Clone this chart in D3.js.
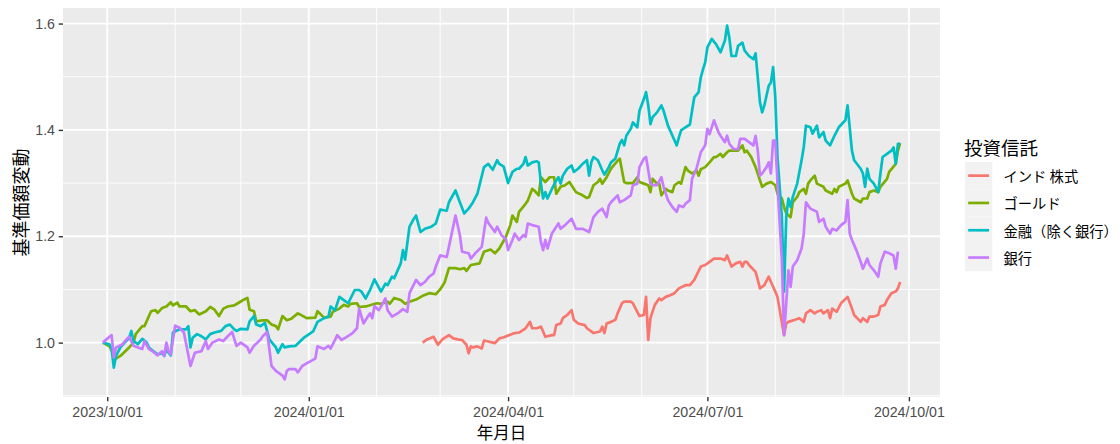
<!DOCTYPE html>
<html>
<head>
<meta charset="utf-8">
<script src="https://cdn.jsdelivr.net/npm/d3@7"></script>
<style>
  body { margin: 0; background: #fff; }
</style>
</head>
<body>
<svg id="chart"></svg>
<script>
// Chart data: normalised fund prices (start = 1.0)

const seriesNames = ["インド 株式", "ゴールド", "金融（除く銀行）", "銀行"];
const seriesColors = ["#F8766D", "#7CAE00", "#00BFC4", "#C77CFF"];

const xTickDates = ["2023-10-01", "2024-01-01", "2024-04-01", "2024-07-01", "2024-10-01"];
const yTickValues = [1.0, 1.2, 1.4, 1.6];

const indiaStock = [
  ["2024-02-22",1.000],["2024-02-24",1.006],["2024-02-27",1.011],["2024-02-29",0.996],["2024-03-02",1.006],
  ["2024-03-05",1.014],["2024-03-07",1.008],["2024-03-09",1.006],["2024-03-11",1.005],["2024-03-13",0.996],
  ["2024-03-14",0.980],["2024-03-15",0.993],["2024-03-16",0.991],["2024-03-18",0.993],["2024-03-20",0.989],
  ["2024-03-21",1.004],["2024-03-23",1.002],["2024-03-26",0.999],["2024-03-28",1.008],["2024-03-30",1.010],
  ["2024-04-02",1.015],["2024-04-04",1.018],["2024-04-06",1.019],["2024-04-09",1.027],["2024-04-10",1.033],
  ["2024-04-11",1.039],["2024-04-12",1.027],["2024-04-14",1.027],["2024-04-16",1.030],["2024-04-17",1.021],
  ["2024-04-18",1.011],["2024-04-21",1.014],["2024-04-22",1.014],["2024-04-23",1.033],["2024-04-25",1.036],
  ["2024-04-26",1.046],["2024-04-28",1.052],["2024-04-30",1.061],["2024-05-01",1.043],["2024-05-03",1.036],
  ["2024-05-06",1.033],["2024-05-07",1.027],["2024-05-09",1.021],["2024-05-10",1.018],["2024-05-13",1.021],
  ["2024-05-14",1.030],["2024-05-15",1.018],["2024-05-16",1.036],["2024-05-18",1.039],["2024-05-20",1.043],
  ["2024-05-21",1.055],["2024-05-23",1.074],["2024-05-24",1.077],["2024-05-27",1.077],["2024-05-28",1.074],
  ["2024-05-30",1.058],["2024-05-31",1.050],["2024-06-02",1.052],["2024-06-03",1.086],["2024-06-04",1.005],
  ["2024-06-05",1.046],["2024-06-07",1.071],["2024-06-09",1.083],["2024-06-10",1.080],["2024-06-12",1.086],
  ["2024-06-14",1.089],["2024-06-16",1.093],["2024-06-18",1.102],["2024-06-21",1.108],["2024-06-23",1.108],
  ["2024-06-25",1.118],["2024-06-28",1.143],["2024-06-30",1.146],["2024-07-02",1.152],["2024-07-04",1.158],
  ["2024-07-07",1.158],["2024-07-09",1.155],["2024-07-10",1.164],["2024-07-12",1.143],["2024-07-14",1.149],
  ["2024-07-16",1.152],["2024-07-17",1.143],["2024-07-18",1.152],["2024-07-19",1.152],["2024-07-20",1.146],
  ["2024-07-23",1.133],["2024-07-24",1.118],["2024-07-25",1.102],["2024-07-27",1.108],["2024-07-29",1.124],
  ["2024-07-31",1.105],["2024-08-01",1.096],["2024-08-02",1.086],["2024-08-05",1.014],["2024-08-06",1.036],
  ["2024-08-07",1.039],["2024-08-10",1.043],["2024-08-12",1.046],["2024-08-14",1.039],["2024-08-15",1.055],
  ["2024-08-17",1.061],["2024-08-19",1.055],["2024-08-20",1.058],["2024-08-22",1.061],["2024-08-23",1.055],
  ["2024-08-25",1.061],["2024-08-26",1.046],["2024-08-27",1.064],["2024-08-29",1.058],["2024-08-31",1.074],
  ["2024-09-03",1.086],["2024-09-05",1.064],["2024-09-06",1.052],["2024-09-09",1.039],["2024-09-10",1.046],
  ["2024-09-12",1.039],["2024-09-13",1.049],["2024-09-15",1.049],["2024-09-17",1.052],["2024-09-18",1.068],
  ["2024-09-20",1.071],["2024-09-21",1.080],["2024-09-23",1.093],["2024-09-25",1.096],["2024-09-26",1.102],
  ["2024-09-27",1.114]
];

const gold = [
  ["2023-09-29",1.000],["2023-10-02",0.993],["2023-10-05",0.970],["2023-10-07",0.975],["2023-10-11",0.991],
  ["2023-10-13",1.000],["2023-10-14",1.016],["2023-10-17",1.031],["2023-10-18",1.031],["2023-10-21",1.059],
  ["2023-10-23",1.061],["2023-10-24",1.056],["2023-10-26",1.065],["2023-10-28",1.068],["2023-10-30",1.076],
  ["2023-10-31",1.070],["2023-11-02",1.075],["2023-11-03",1.068],["2023-11-06",1.068],["2023-11-08",1.059],
  ["2023-11-10",1.061],["2023-11-12",1.053],["2023-11-15",1.059],["2023-11-17",1.067],["2023-11-19",1.062],
  ["2023-11-21",1.050],["2023-11-23",1.064],["2023-11-25",1.068],["2023-11-28",1.070],["2023-11-30",1.075],
  ["2023-12-02",1.080],["2023-12-04",1.084],["2023-12-05",1.062],["2023-12-07",1.059],["2023-12-08",1.040],
  ["2023-12-11",1.042],["2023-12-13",1.042],["2023-12-15",1.034],["2023-12-17",1.031],["2023-12-18",1.025],
  ["2023-12-20",1.050],["2023-12-22",1.042],["2023-12-24",1.045],["2023-12-27",1.055],["2023-12-28",1.053],
  ["2023-12-31",1.046],["2024-01-04",1.047],["2024-01-05",1.059],["2024-01-08",1.047],["2024-01-11",1.049],
  ["2024-01-12",1.058],["2024-01-15",1.064],["2024-01-17",1.071],["2024-01-19",1.068],["2024-01-20",1.073],
  ["2024-01-23",1.074],["2024-01-24",1.067],["2024-01-27",1.068],["2024-02-01",1.074],["2024-02-03",1.073],
  ["2024-02-06",1.077],["2024-02-07",1.073],["2024-02-09",1.084],["2024-02-12",1.080],["2024-02-14",1.073],
  ["2024-02-16",1.077],["2024-02-19",1.081],["2024-02-22",1.088],["2024-02-25",1.093],["2024-02-28",1.091],
  ["2024-03-01",1.100],["2024-03-03",1.113],["2024-03-05",1.140],["2024-03-08",1.140],["2024-03-10",1.138],
  ["2024-03-12",1.140],["2024-03-13",1.135],["2024-03-15",1.146],["2024-03-19",1.149],["2024-03-21",1.171],
  ["2024-03-24",1.175],["2024-03-26",1.168],["2024-03-28",1.177],["2024-03-31",1.199],["2024-04-02",1.221],
  ["2024-04-03",1.239],["2024-04-05",1.227],["2024-04-06",1.246],["2024-04-09",1.261],["2024-04-10",1.267],
  ["2024-04-12",1.289],["2024-04-13",1.286],["2024-04-15",1.277],["2024-04-16",1.311],["2024-04-18",1.302],
  ["2024-04-20",1.311],["2024-04-22",1.311],["2024-04-23",1.280],["2024-04-25",1.293],["2024-04-27",1.296],
  ["2024-04-29",1.302],["2024-05-02",1.283],["2024-05-05",1.277],["2024-05-07",1.272],["2024-05-08",1.274],
  ["2024-05-10",1.296],["2024-05-12",1.302],["2024-05-13",1.308],["2024-05-14",1.299],["2024-05-16",1.311],
  ["2024-05-18",1.327],["2024-05-21",1.342],["2024-05-22",1.346],["2024-05-24",1.302],["2024-05-25",1.300],
  ["2024-05-28",1.300],["2024-05-30",1.311],["2024-05-31",1.302],["2024-06-02",1.299],["2024-06-04",1.296],
  ["2024-06-05",1.283],["2024-06-06",1.308],["2024-06-08",1.299],["2024-06-09",1.299],["2024-06-10",1.277],
  ["2024-06-12",1.289],["2024-06-13",1.286],["2024-06-15",1.283],["2024-06-16",1.296],["2024-06-18",1.302],
  ["2024-06-19",1.299],["2024-06-21",1.330],["2024-06-22",1.324],["2024-06-24",1.318],["2024-06-26",1.324],
  ["2024-06-27",1.314],["2024-06-28",1.326],["2024-06-30",1.330],["2024-07-02",1.339],["2024-07-04",1.349],
  ["2024-07-05",1.349],["2024-07-07",1.355],["2024-07-08",1.349],["2024-07-10",1.358],["2024-07-11",1.361],
  ["2024-07-14",1.361],["2024-07-15",1.361],["2024-07-17",1.371],["2024-07-18",1.358],["2024-07-19",1.361],
  ["2024-07-21",1.349],["2024-07-23",1.330],["2024-07-25",1.305],["2024-07-26",1.293],["2024-07-28",1.299],
  ["2024-07-30",1.302],["2024-08-01",1.296],["2024-08-02",1.280],["2024-08-04",1.271],["2024-08-05",1.255],
  ["2024-08-06",1.243],["2024-08-08",1.236],["2024-08-09",1.264],["2024-08-11",1.274],["2024-08-12",1.283],
  ["2024-08-14",1.289],["2024-08-15",1.280],["2024-08-16",1.299],["2024-08-17",1.305],["2024-08-19",1.314],
  ["2024-08-20",1.299],["2024-08-23",1.293],["2024-08-24",1.286],["2024-08-27",1.280],["2024-08-28",1.289],
  ["2024-08-29",1.283],["2024-08-30",1.293],["2024-09-02",1.299],["2024-09-03",1.305],["2024-09-05",1.280],
  ["2024-09-06",1.271],["2024-09-09",1.264],["2024-09-10",1.271],["2024-09-12",1.271],["2024-09-13",1.283],
  ["2024-09-15",1.286],["2024-09-17",1.283],["2024-09-18",1.293],["2024-09-21",1.308],["2024-09-22",1.321],
  ["2024-09-25",1.336],["2024-09-26",1.361],["2024-09-27",1.375]
];

const finance = [
  ["2023-09-29",1.000],["2023-10-02",0.997],["2023-10-03",0.988],["2023-10-04",0.953],["2023-10-05",0.975],
  ["2023-10-07",0.991],["2023-10-09",1.000],["2023-10-11",1.009],["2023-10-12",1.022],["2023-10-13",1.003],
  ["2023-10-15",0.997],["2023-10-17",1.007],["2023-10-19",1.000],["2023-10-20",0.991],["2023-10-22",0.984],
  ["2023-10-24",0.978],["2023-10-26",0.980],["2023-10-27",0.975],["2023-10-28",0.988],["2023-10-29",0.981],
  ["2023-10-30",0.976],["2023-10-31",1.019],["2023-11-03",1.025],["2023-11-06",1.025],["2023-11-07",1.031],
  ["2023-11-08",0.991],["2023-11-09",1.009],["2023-11-11",1.016],["2023-11-13",1.012],["2023-11-15",1.006],
  ["2023-11-17",1.016],["2023-11-19",1.019],["2023-11-22",1.022],["2023-11-24",1.031],["2023-11-26",1.034],
  ["2023-11-28",1.025],["2023-11-29",1.022],["2023-12-01",1.026],["2023-12-04",1.025],["2023-12-05",1.040],
  ["2023-12-07",1.050],["2023-12-08",1.034],["2023-12-10",1.031],["2023-12-12",1.037],["2023-12-14",1.006],
  ["2023-12-17",0.991],["2023-12-18",0.981],["2023-12-20",0.997],["2023-12-21",0.991],["2023-12-23",0.993],
  ["2023-12-26",0.994],["2023-12-28",1.002],["2023-12-30",1.010],["2024-01-03",1.021],["2024-01-05",1.039],
  ["2024-01-08",1.046],["2024-01-10",1.049],["2024-01-11",1.068],["2024-01-13",1.061],["2024-01-15",1.086],
  ["2024-01-17",1.080],["2024-01-19",1.074],["2024-01-22",1.099],["2024-01-24",1.099],["2024-01-25",1.096],
  ["2024-01-27",1.083],["2024-01-29",1.099],["2024-01-31",1.119],["2024-02-03",1.096],["2024-02-05",1.111],
  ["2024-02-06",1.108],["2024-02-08",1.124],["2024-02-09",1.121],["2024-02-12",1.149],["2024-02-13",1.174],
  ["2024-02-14",1.156],["2024-02-16",1.218],["2024-02-18",1.233],["2024-02-19",1.239],["2024-02-21",1.208],
  ["2024-02-23",1.214],["2024-02-26",1.218],["2024-02-28",1.224],["2024-03-01",1.250],["2024-03-04",1.248],
  ["2024-03-05",1.264],["2024-03-08",1.286],["2024-03-10",1.264],["2024-03-12",1.243],["2024-03-14",1.252],
  ["2024-03-16",1.264],["2024-03-18",1.280],["2024-03-21",1.330],["2024-03-23",1.336],["2024-03-25",1.325],
  ["2024-03-27",1.343],["2024-03-28",1.336],["2024-03-30",1.331],["2024-04-01",1.300],["2024-04-03",1.321],
  ["2024-04-05",1.327],["2024-04-06",1.327],["2024-04-08",1.336],["2024-04-09",1.349],["2024-04-10",1.333],
  ["2024-04-12",1.339],["2024-04-14",1.341],["2024-04-15",1.339],["2024-04-16",1.299],["2024-04-17",1.271],
  ["2024-04-18",1.283],["2024-04-19",1.271],["2024-04-21",1.289],["2024-04-23",1.305],["2024-04-24",1.311],
  ["2024-04-25",1.299],["2024-04-26",1.314],["2024-04-28",1.327],["2024-04-30",1.333],["2024-05-01",1.321],
  ["2024-05-03",1.327],["2024-05-05",1.336],["2024-05-07",1.343],["2024-05-08",1.314],["2024-05-09",1.339],
  ["2024-05-10",1.349],["2024-05-12",1.343],["2024-05-14",1.324],["2024-05-15",1.316],["2024-05-17",1.330],
  ["2024-05-18",1.339],["2024-05-20",1.346],["2024-05-22",1.374],["2024-05-23",1.381],["2024-05-24",1.371],
  ["2024-05-25",1.389],["2024-05-27",1.402],["2024-05-28",1.414],["2024-05-30",1.405],["2024-05-31",1.436],
  ["2024-06-02",1.458],["2024-06-03",1.471],["2024-06-04",1.446],["2024-06-05",1.411],["2024-06-06",1.424],
  ["2024-06-08",1.433],["2024-06-10",1.446],["2024-06-11",1.436],["2024-06-13",1.408],["2024-06-14",1.399],
  ["2024-06-16",1.380],["2024-06-17",1.371],["2024-06-18",1.386],["2024-06-19",1.399],["2024-06-21",1.405],
  ["2024-06-23",1.410],["2024-06-24",1.436],["2024-06-25",1.461],["2024-06-27",1.471],["2024-06-28",1.499],
  ["2024-06-29",1.514],["2024-06-30",1.527],["2024-07-01",1.555],["2024-07-03",1.571],["2024-07-05",1.561],
  ["2024-07-07",1.546],["2024-07-09",1.568],["2024-07-10",1.596],["2024-07-11",1.574],["2024-07-12",1.539],
  ["2024-07-14",1.539],["2024-07-15",1.558],["2024-07-17",1.564],["2024-07-18",1.549],["2024-07-20",1.539],
  ["2024-07-22",1.533],["2024-07-23",1.544],["2024-07-24",1.499],["2024-07-25",1.452],["2024-07-26",1.433],
  ["2024-07-27",1.446],["2024-07-29",1.483],["2024-07-30",1.489],["2024-07-31",1.518],["2024-08-01",1.461],
  ["2024-08-02",1.349],["2024-08-04",1.236],["2024-08-05",1.096],["2024-08-06",1.236],["2024-08-07",1.271],
  ["2024-08-08",1.255],["2024-08-09",1.274],["2024-08-11",1.299],["2024-08-13",1.343],["2024-08-14",1.368],
  ["2024-08-15",1.408],["2024-08-17",1.405],["2024-08-18",1.393],["2024-08-20",1.408],["2024-08-21",1.386],
  ["2024-08-23",1.396],["2024-08-24",1.380],["2024-08-26",1.371],["2024-08-28",1.389],["2024-08-30",1.405],
  ["2024-09-01",1.414],["2024-09-02",1.418],["2024-09-03",1.446],["2024-09-05",1.361],["2024-09-06",1.343],
  ["2024-09-09",1.327],["2024-09-10",1.318],["2024-09-11",1.293],["2024-09-12",1.327],["2024-09-13",1.308],
  ["2024-09-15",1.299],["2024-09-17",1.283],["2024-09-18",1.318],["2024-09-19",1.349],["2024-09-21",1.355],
  ["2024-09-23",1.361],["2024-09-24",1.367],["2024-09-25",1.336],["2024-09-26",1.374],["2024-09-27",1.374]
];

const bank = [
  ["2023-09-29",1.000],["2023-10-02",1.011],["2023-10-03",1.014],["2023-10-04",0.972],["2023-10-05",0.991],
  ["2023-10-08",0.997],["2023-10-10",1.007],["2023-10-11",1.011],["2023-10-13",0.994],["2023-10-15",0.991],
  ["2023-10-17",0.988],["2023-10-18",1.003],["2023-10-20",0.988],["2023-10-22",0.983],["2023-10-24",0.976],
  ["2023-10-26",0.984],["2023-10-27",0.975],["2023-10-28",1.000],["2023-10-29",0.984],["2023-10-30",0.978],
  ["2023-11-01",1.032],["2023-11-03",1.028],["2023-11-05",1.019],["2023-11-08",0.956],["2023-11-10",0.981],
  ["2023-11-13",0.984],["2023-11-15",1.003],["2023-11-16",0.988],["2023-11-18",1.000],["2023-11-21",1.006],
  ["2023-11-23",1.003],["2023-11-25",1.012],["2023-11-27",1.020],["2023-11-29",0.994],["2023-12-01",1.000],
  ["2023-12-04",0.991],["2023-12-05",0.981],["2023-12-07",0.994],["2023-12-10",1.006],["2023-12-11",1.012],
  ["2023-12-13",1.020],["2023-12-14",0.988],["2023-12-15",0.956],["2023-12-17",0.947],["2023-12-20",0.938],
  ["2023-12-21",0.931],["2023-12-22",0.947],["2023-12-23",0.950],["2023-12-26",0.950],["2023-12-27",0.944],
  ["2023-12-29",0.956],["2023-12-31",0.961],["2024-01-04",0.970],["2024-01-05",0.993],["2024-01-08",0.988],
  ["2024-01-10",0.994],["2024-01-11",0.989],["2024-01-13",1.005],["2024-01-14",1.014],["2024-01-16",1.005],
  ["2024-01-18",1.010],["2024-01-21",1.018],["2024-01-23",1.027],["2024-01-24",1.064],["2024-01-26",1.036],
  ["2024-01-28",1.049],["2024-01-29",1.055],["2024-01-30",1.046],["2024-01-31",1.069],["2024-02-02",1.061],
  ["2024-02-05",1.083],["2024-02-06",1.061],["2024-02-08",1.049],["2024-02-11",1.056],["2024-02-13",1.063],
  ["2024-02-15",1.058],["2024-02-16",1.093],["2024-02-19",1.118],["2024-02-21",1.108],["2024-02-23",1.114],
  ["2024-02-25",1.124],["2024-02-27",1.130],["2024-02-28",1.143],["2024-03-01",1.164],["2024-03-04",1.161],
  ["2024-03-05",1.180],["2024-03-08",1.239],["2024-03-10",1.202],["2024-03-11",1.171],["2024-03-14",1.168],
  ["2024-03-15",1.158],["2024-03-17",1.168],["2024-03-20",1.180],["2024-03-22",1.235],["2024-03-23",1.225],
  ["2024-03-26",1.208],["2024-03-27",1.218],["2024-03-29",1.202],["2024-03-31",1.195],["2024-04-01",1.174],
  ["2024-04-03",1.193],["2024-04-04",1.205],["2024-04-06",1.193],["2024-04-08",1.202],["2024-04-09",1.199],
  ["2024-04-10",1.224],["2024-04-12",1.221],["2024-04-15",1.218],["2024-04-16",1.189],["2024-04-17",1.174],
  ["2024-04-18",1.193],["2024-04-19",1.177],["2024-04-21",1.205],["2024-04-24",1.224],["2024-04-25",1.214],
  ["2024-04-27",1.221],["2024-04-30",1.233],["2024-05-02",1.214],["2024-05-05",1.214],["2024-05-08",1.208],
  ["2024-05-10",1.236],["2024-05-12",1.246],["2024-05-14",1.252],["2024-05-16",1.236],["2024-05-17",1.258],
  ["2024-05-18",1.264],["2024-05-21",1.277],["2024-05-22",1.264],["2024-05-24",1.268],["2024-05-27",1.277],
  ["2024-05-28",1.296],["2024-05-30",1.299],["2024-05-31",1.330],["2024-06-02",1.346],["2024-06-03",1.349],
  ["2024-06-05",1.299],["2024-06-06",1.296],["2024-06-08",1.296],["2024-06-10",1.311],["2024-06-11",1.293],
  ["2024-06-13",1.268],["2024-06-15",1.255],["2024-06-17",1.246],["2024-06-18",1.258],["2024-06-20",1.255],
  ["2024-06-21",1.261],["2024-06-23",1.268],["2024-06-24",1.308],["2024-06-26",1.327],["2024-06-28",1.358],
  ["2024-06-30",1.371],["2024-07-01",1.402],["2024-07-02",1.392],["2024-07-04",1.418],["2024-07-06",1.396],
  ["2024-07-07",1.389],["2024-07-09",1.377],["2024-07-10",1.389],["2024-07-11",1.374],["2024-07-13",1.364],
  ["2024-07-15",1.364],["2024-07-16",1.383],["2024-07-18",1.383],["2024-07-20",1.377],["2024-07-22",1.371],
  ["2024-07-23",1.389],["2024-07-24",1.361],["2024-07-25",1.314],["2024-07-26",1.318],["2024-07-28",1.330],
  ["2024-07-29",1.339],["2024-07-30",1.318],["2024-07-31",1.380],["2024-08-01",1.380],["2024-08-02",1.299],
  ["2024-08-04",1.155],["2024-08-05",1.014],["2024-08-06",1.074],["2024-08-07",1.136],["2024-08-08",1.105],
  ["2024-08-09",1.143],["2024-08-11",1.155],["2024-08-13",1.177],["2024-08-14",1.205],["2024-08-15",1.264],
  ["2024-08-17",1.252],["2024-08-20",1.246],["2024-08-21",1.227],["2024-08-23",1.233],["2024-08-24",1.218],
  ["2024-08-26",1.205],["2024-08-27",1.214],["2024-08-29",1.211],["2024-08-31",1.221],["2024-09-02",1.227],
  ["2024-09-03",1.268],["2024-09-04",1.205],["2024-09-05",1.193],["2024-09-07",1.174],["2024-09-09",1.152],
  ["2024-09-10",1.139],["2024-09-12",1.158],["2024-09-13",1.146],["2024-09-15",1.136],["2024-09-17",1.124],
  ["2024-09-18",1.149],["2024-09-20",1.171],["2024-09-22",1.168],["2024-09-24",1.164],["2024-09-25",1.139],
  ["2024-09-26",1.171]
];

const seriesValues = [indiaStock, gold, finance, bank];

// Layout

const width = 1120;
const height = 444;
const panel = { left: 63, right: 940, top: 8, bottom: 397 };
const fontLatin = "'Liberation Sans', Arial, sans-serif";
const fontCJK = "'Noto Sans CJK JP', 'Noto Sans', sans-serif";

const parseDate = d3.timeParse("%Y-%m-%d");

const series = seriesNames.map((name, i) => ({
  name: name,
  color: seriesColors[i],
  values: seriesValues[i].map(d => ({ date: parseDate(d[0]), value: d[1] }))
}));

const allPoints = series.flatMap(s => s.values);

// ggplot-style 5% expansion of both scales
const dateExtent = d3.extent(allPoints, d => d.date);
const dateSpan = dateExtent[1] - dateExtent[0];
const x = d3.scaleTime()
  .domain([new Date(+dateExtent[0] - dateSpan * 0.05), new Date(+dateExtent[1] + dateSpan * 0.05)])
  .range([panel.left, panel.right]);

const valueExtent = d3.extent(allPoints, d => d.value);
const valueSpan = valueExtent[1] - valueExtent[0];
const y = d3.scaleLinear()
  .domain([valueExtent[0] - valueSpan * 0.05, valueExtent[1] + valueSpan * 0.05])
  .range([panel.bottom, panel.top]);

const svg = d3.select("#chart")
  .attr("width", width)
  .attr("height", height)
  .attr("viewBox", [0, 0, width, height]);

svg.append("rect")
  .attr("width", width)
  .attr("height", height)
  .attr("fill", "#ffffff");

// Panel background

svg.append("rect")
  .attr("x", panel.left)
  .attr("y", panel.top)
  .attr("width", panel.right - panel.left)
  .attr("height", panel.bottom - panel.top)
  .attr("fill", "#EBEBEB");

// Grid lines

const xMajor = xTickDates.map(parseDate);
const xMinor = d3.timeMonth.range(x.domain()[0], x.domain()[1])
  .filter(d => !xMajor.some(m => +m === +d));
const yMinor = yTickValues.map(v => v - 0.1).concat([yTickValues[yTickValues.length - 1] + 0.1])
  .filter(v => v >= y.domain()[0] && v <= y.domain()[1]);

const grid = svg.append("g").attr("stroke", "#ffffff");

grid.selectAll(".minor-x")
  .data(xMinor)
  .enter()
  .append("line")
  .attr("x1", d => x(d))
  .attr("x2", d => x(d))
  .attr("y1", panel.top)
  .attr("y2", panel.bottom)
  .attr("stroke-width", 0.9);

grid.selectAll(".minor-y")
  .data(yMinor)
  .enter()
  .append("line")
  .attr("x1", panel.left)
  .attr("x2", panel.right)
  .attr("y1", d => y(d))
  .attr("y2", d => y(d))
  .attr("stroke-width", 0.9);

grid.selectAll(".major-x")
  .data(xMajor)
  .enter()
  .append("line")
  .attr("x1", d => x(d))
  .attr("x2", d => x(d))
  .attr("y1", panel.top)
  .attr("y2", panel.bottom)
  .attr("stroke-width", 1.8);

grid.selectAll(".major-y")
  .data(yTickValues)
  .enter()
  .append("line")
  .attr("x1", panel.left)
  .attr("x2", panel.right)
  .attr("y1", d => y(d))
  .attr("y2", d => y(d))
  .attr("stroke-width", 1.8);

// Lines

const line = d3.line()
  .x(d => x(d.date))
  .y(d => y(d.value));

svg.append("g")
  .selectAll("path")
  .data(series)
  .enter()
  .append("path")
  .attr("d", d => line(d.values))
  .attr("fill", "none")
  .attr("stroke", d => d.color)
  .attr("stroke-width", 2.7)
  .attr("stroke-linejoin", "round");

// Axes

const xAxis = svg.append("g")
  .attr("transform", "translate(0," + panel.bottom + ")")
  .call(d3.axisBottom(x)
    .tickValues(xMajor)
    .tickFormat(d3.timeFormat("%Y/%m/%d"))
    .tickSize(4.3)
    .tickPadding(5.5));

const yAxis = svg.append("g")
  .attr("transform", "translate(" + panel.left + ",0)")
  .call(d3.axisLeft(y)
    .tickValues(yTickValues)
    .tickFormat(d3.format(".1f"))
    .tickSize(4.3)
    .tickPadding(3.7));

[xAxis, yAxis].forEach(axis => {
  axis.select(".domain").remove();
  axis.selectAll(".tick line").attr("stroke", "#333333").attr("stroke-width", 1.4);
  axis.selectAll(".tick text")
    .attr("fill", "#4D4D4D")
    .style("font-family", fontLatin)
    .style("font-size", "14.2px");
});

// Axis titles

svg.append("text")
  .attr("x", (panel.left + panel.right) / 2)
  .attr("y", 432)
  .attr("text-anchor", "middle")
  .attr("dominant-baseline", "central")
  .style("font-family", fontCJK)
  .style("font-size", "16.5px")
  .attr("fill", "#000000")
  .text("年月日");

svg.append("text")
  .attr("transform", "translate(20," + (panel.top + panel.bottom) / 2 + ") rotate(-90)")
  .attr("text-anchor", "middle")
  .attr("dominant-baseline", "central")
  .style("font-family", fontCJK)
  .style("font-size", "18px")
  .attr("fill", "#000000")
  .text("基準価額変動");

// Legend

const legend = svg.append("g").attr("transform", "translate(965,162)");
const keySize = 27.3;

legend.append("text")
  .attr("x", -1)
  .attr("y", -15.5)
  .attr("dominant-baseline", "central")
  .style("font-family", fontCJK)
  .style("font-size", "18.5px")
  .attr("fill", "#000000")
  .text("投資信託");

const keys = legend.selectAll(".key")
  .data(series)
  .enter()
  .append("g")
  .attr("transform", (d, i) => "translate(0," + (i * keySize) + ")");

keys.append("rect")
  .attr("width", keySize)
  .attr("height", keySize)
  .attr("fill", "#F2F2F2");

keys.append("line")
  .attr("x1", 3.2)
  .attr("x2", keySize - 3.2)
  .attr("y1", keySize / 2)
  .attr("y2", keySize / 2)
  .attr("stroke", d => d.color)
  .attr("stroke-width", 2.7);

keys.append("text")
  .attr("x", 38.5)
  .attr("y", keySize / 2)
  .attr("dominant-baseline", "central")
  .style("font-family", fontCJK)
  .style("font-size", "14.3px")
  .attr("fill", "#000000")
  .text(d => d.name);
</script>
</body>
</html>
